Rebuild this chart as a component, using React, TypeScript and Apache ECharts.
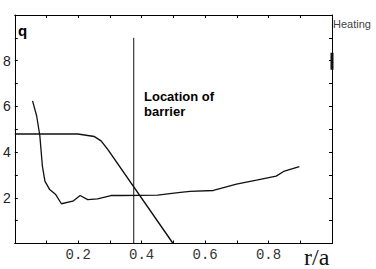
import React, { useEffect, useRef } from "react";
import * as echarts from "echarts";

const xTickLabels = ["0.2", "0.4", "0.6", "0.8"];
const yTickLabels = ["2", "4", "6", "8"];

const qCurveR = [0.056, 0.069, 0.079, 0.087, 0.095, 0.11, 0.129, 0.147, 0.183, 0.206, 0.23, 0.261, 0.303, 0.334, 0.45, 0.522, 0.553, 0.626, 0.699, 0.762, 0.824, 0.85, 0.897];
const qCurveQ = [6.24, 5.58, 4.71, 3.39, 2.73, 2.36, 2.14, 1.74, 1.85, 2.1, 1.92, 1.95, 2.1, 2.1, 2.12, 2.24, 2.28, 2.32, 2.6, 2.77, 2.95, 3.17, 3.36];

const heatR = [0.0, 0.199, 0.251, 0.272, 0.293, 0.499];
const heatQ = [4.79, 4.79, 4.68, 4.49, 4.12, 0.0];

const barrierR = [0.375, 0.375];
const barrierQ = [0, 9];

const heatingMarkR = [1, 1];
const heatingMarkQ = [7.6, 8.35];

const zip = (a: number[], b: number[]) => a.map((v, i) => [v, b[i]]);

export default function App() {
  const ref = useRef<HTMLDivElement>(null);
  useEffect(() => {
    if (!ref.current) return;
    const chart = echarts.init(ref.current, undefined, { renderer: "svg" });
    const axisLine = { show: true, onZero: false, lineStyle: { color: "#000", width: 1 } };
    const tick = { show: true, inside: true, length: 3, lineStyle: { color: "#000" } };
    const lineStyle = (w: number) => ({ color: "#111", width: w });
    chart.setOption({
      animation: false,
      backgroundColor: "#fff",
      grid: { left: 13, right: 44, top: 15, bottom: 25.5, containLabel: false },
      xAxis: [
        {
          type: "value",
          min: 0,
          max: 1,
          interval: 0.1,
          position: "bottom",
          axisLine,
          splitLine: { show: false },
          axisTick: tick,
          axisLabel: {
            show: true,
            margin: 4,
            color: "#333",
            fontFamily: "Liberation Mono",
            fontSize: 14,
            formatter: (v: number) => {
              const s = v.toFixed(1);
              return xTickLabels.includes(s) ? s : "";
            },
          },
        },
        {
          type: "value",
          min: 0,
          max: 1,
          interval: 0.1,
          position: "top",
          axisLine,
          splitLine: { show: false },
          axisTick: tick,
          axisLabel: { show: false },
        },
      ],
      yAxis: [
        {
          type: "value",
          min: 0,
          max: 10,
          interval: 1,
          position: "left",
          axisLine,
          splitLine: { show: false },
          axisTick: tick,
          axisLabel: {
            show: true,
            margin: 4,
            color: "#222",
            fontFamily: "Liberation Sans",
            fontSize: 14,
            formatter: (v: number) => {
              const s = String(Math.round(v));
              return yTickLabels.includes(s) ? s : "";
            },
          },
        },
        {
          type: "value",
          min: 0,
          max: 10,
          interval: 1,
          position: "right",
          axisLine,
          splitLine: { show: false },
          axisTick: tick,
          axisLabel: { show: false },
        },
      ],
      series: [
        {
          type: "line",
          data: zip(qCurveR, qCurveQ),
          symbol: "none",
          lineStyle: lineStyle(1.3),
        },
        {
          type: "line",
          data: zip(heatR, heatQ),
          symbol: "none",
          lineStyle: lineStyle(1.4),
        },
        {
          type: "line",
          data: zip(barrierR, barrierQ),
          symbol: "none",
          lineStyle: lineStyle(1),
        },
        {
          type: "line",
          data: zip(heatingMarkR, heatingMarkQ),
          symbol: "none",
          lineStyle: lineStyle(3),
        },
      ],
      graphic: [
        {
          type: "text",
          left: 18,
          top: 23,
          style: { text: "q", font: "bold 15px 'Liberation Sans', Arial", fill: "#000" },
        },
        {
          type: "text",
          left: 144,
          top: 89,
          style: {
            text: "Location of\nbarrier",
            font: "bold 13px 'Liberation Sans', Arial",
            lineHeight: 15,
            fill: "#000",
          },
        },
        {
          type: "text",
          left: 333,
          top: 18,
          style: { text: "Heating", font: "11px 'Liberation Sans', Arial", fill: "#444" },
        },
        {
          type: "text",
          left: 304,
          top: 245,
          style: { text: "r/a", font: "24px 'Liberation Serif', 'Times New Roman', serif", fill: "#111" },
        },
      ],
    });
    return () => chart.dispose();
  }, []);
  return <div ref={ref} style={{ width: 376, height: 269, position: "absolute", left: 0, top: 0 }} />;
}
